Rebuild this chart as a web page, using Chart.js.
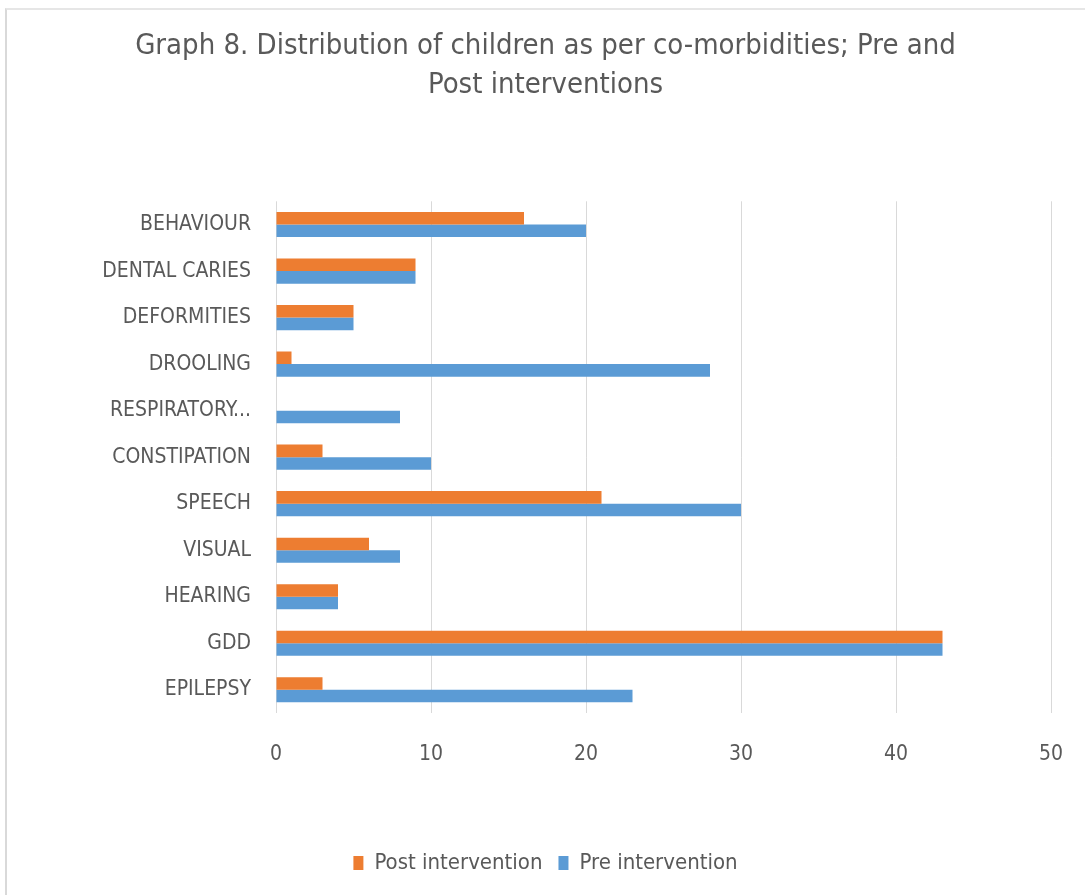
<!DOCTYPE html>
<html>
<head>
<meta charset="utf-8">
<script src="https://cdn.jsdelivr.net/npm/chart.js@4"></script>
<style>
html,body{margin:0;padding:0;background:#fff;}
#wrap{position:absolute;left:0;top:0;width:1085px;height:895px;}
#frame{position:absolute;left:5px;top:8px;width:1085px;height:900px;border-left:2px solid #d9d9d9;border-top:2px solid #e6e6e6;pointer-events:none;}
</style>
</head>
<body>
<div id="wrap"><canvas id="c" width="1085" height="895"></canvas></div>
<div id="frame"></div>
<script>
const categories = ["BEHAVIOUR","DENTAL CARIES","DEFORMITIES","DROOLING","RESPIRATORY...","CONSTIPATION","SPEECH","VISUAL","HEARING","GDD","EPILEPSY"];
const postIntervention = [16, 9, 5, 1, 0, 3, 21, 6, 4, 43, 3];
const preIntervention = [20, 9, 5, 28, 8, 10, 30, 8, 4, 43, 23];
const xTicks = [0, 10, 20, 30, 40, 50];
const seriesNames = ["Post intervention", "Pre intervention"];
const titleLines = ["Graph 8. Distribution of children as per co-morbidities; Pre and", "Post interventions"];

const FONT = "'Liberation Sans Narrow','DejaVu Sans Condensed','Open Sans',sans-serif";
const TXT = "#595959";

new Chart(document.getElementById('c'), {
  type: 'bar',
  data: {
    labels: categories,
    datasets: [
      {label: seriesNames[0], data: postIntervention, backgroundColor: '#ED7D31', categoryPercentage: 0.54, barPercentage: 1.0},
      {label: seriesNames[1], data: preIntervention, backgroundColor: '#5B9BD5', categoryPercentage: 0.54, barPercentage: 1.0}
    ]
  },
  options: {
    indexAxis: 'y',
    responsive: false,
    animation: false,
    layout: {padding: {left: 40, right: 34, top: 27, bottom: 11}},
    plugins: {
      title: {display: true, text: titleLines, color: TXT, font: {family: FONT, size: 29, weight: 'normal', lineHeight: 1.35}, padding: {top: 0, bottom: 96}},
      legend: {position: 'bottom', labels: {color: TXT, font: {family: FONT, size: 22}, boxWidth: 10, boxHeight: 14, padding: 16}},
      tooltip: {enabled: false}
    },
    scales: {
      x: {
        min: 0, max: 50,
        afterBuildTicks: s => { s.ticks = xTicks.map(v => ({value: v})); },
        grid: {color: '#d9d9d9', drawTicks: false},
        border: {display: false},
        ticks: {color: TXT, font: {family: FONT, size: 21}, padding: 29},
        afterFit: s => { s.height = 123; s.paddingRight = 0; s.paddingLeft = 0; }
      },
      y: {
        grid: {display: false, drawTicks: false},
        border: {display: false},
        ticks: {color: TXT, font: {family: FONT, size: 21}, padding: 25},
        afterFit: s => { s.width = 236; s.paddingTop = 0; s.paddingBottom = 0; }
      }
    }
  }
});
</script>
</body>
</html>
